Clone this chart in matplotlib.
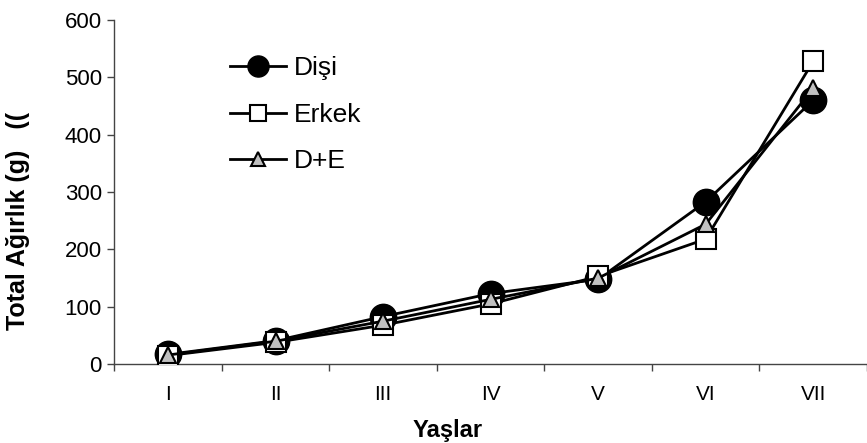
import numpy as np
import matplotlib.pyplot as plt

plt.rcParams['font.family'] = ['Liberation Sans', 'DejaVu Sans']

yaslar = ['I', 'II', 'III', 'IV', 'V', 'VI', 'VII']
disi = [17, 41, 83, 123, 148, 283, 460]
erkek = [15, 38, 68, 105, 153, 218, 528]
d_e = [16, 40, 75, 113, 150, 244, 481]

x = np.arange(len(yaslar))

fig = plt.figure(figsize=(8.67, 4.43), dpi=100)
ax = fig.add_axes([0.132, 0.178, 0.868, 0.777])

ax.plot(x, disi, color='black', lw=2, marker='o', ms=19,
        mfc='black', mec='black', label='Dişi', zorder=3)
ax.plot(x, erkek, color='black', lw=2, marker='s', ms=14,
        mfc='white', mec='black', mew=1.5, label='Erkek', zorder=4)
ax.plot(x, d_e, color='black', lw=2, marker='^', ms=12,
        mfc='#c0c0c0', mec='black', mew=1.5, label='D+E', zorder=5)

ax.set_xlim(-0.5, 6.5)
ax.set_ylim(0, 600)
ax.set_yticks(range(0, 601, 100))
ax.set_xticks(x)
ax.set_xticklabels(yaslar)
ax.set_xticks(np.arange(-0.5, 7, 1), minor=True)
ax.tick_params(axis='x', which='major', length=0, pad=15, labelsize=15)
ax.tick_params(axis='x', which='minor', length=5, width=1, color='#444444')
ax.tick_params(axis='y', length=5, width=1, color='#444444', labelsize=16, pad=4)

for s in ['top', 'right']:
    ax.spines[s].set_visible(False)
for s in ['left', 'bottom']:
    ax.spines[s].set_color('#444444')
    ax.spines[s].set_linewidth(1)

ax.set_xlabel('Yaşlar', fontsize=17, fontweight='bold')
ax.xaxis.set_label_coords(0.443, -0.16)
ax.set_ylabel('Total Ağırlık (g)   ((', fontsize=18, fontweight='bold')
ax.yaxis.set_label_coords(-0.112, 0.415)

ax.legend(loc='upper left', bbox_to_anchor=(0.14, 0.925), frameon=False,
          fontsize=19, handlelength=2.1, handletextpad=0.3, labelspacing=0.85,
          borderaxespad=0, markerscale=0.8)

fig.savefig('out.png', dpi=100)
